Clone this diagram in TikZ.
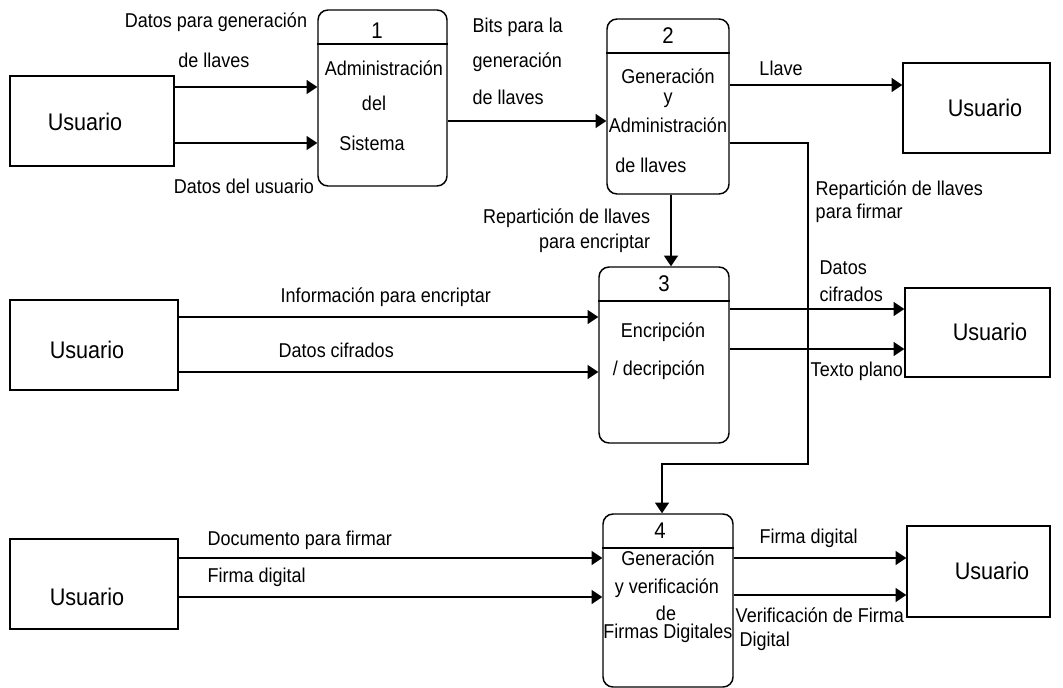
\documentclass[tikz,border=0pt]{standalone}
\usepackage{fontspec}
\setmainfont[FakeStretch=0.9]{Liberation Sans}
\usetikzlibrary{arrows.meta,fit}
\begin{document}
\begin{tikzpicture}[x=0.75pt,y=-0.75pt,line width=1.1pt,
  ent/.style={draw, inner sep=0pt},
  enttxt/.style={inner sep=0pt, font=\fontsize{18}{21}\selectfont},
  proc/.style={draw, rounded corners=7.5pt, inner sep=0pt},
  num/.style={inner sep=0pt, font=\fontsize{17}{20}\selectfont},
  lbl/.style={inner sep=0pt, font=\fontsize{15}{18}\selectfont},
  flow/.style={-{Triangle[length=8pt,width=10.5pt]}}]
\useasboundingbox (0,0) rectangle (1063,688);

% external entities
\node[ent, fit={(10,76)(174,166)}] (u1) {};
\node[enttxt] (u1t) at (85,122) {Usuario};
\node[ent, fit={(903,63)(1050,153)}] (u2) {};
\node[enttxt] (u2t) at (985,108) {Usuario};
\node[ent, fit={(10,300)(178,390)}] (u3) {};
\node[enttxt] (u3t) at (87,350) {Usuario};
\node[ent, fit={(905,288)(1050,377)}] (u4) {};
\node[enttxt] (u4t) at (990,332) {Usuario};
\node[ent, fit={(10,539)(178,629)}] (u5) {};
\node[enttxt] (u5t) at (87,597) {Usuario};
\node[ent, fit={(907,526)(1050,617)}] (u6) {};
\node[enttxt] (u6t) at (992,571) {Usuario};

% processes
\node[proc, fit={(318,10)(447,186)}] (p1) {};
\draw (p1.west |- 0,44) -- (p1.east |- 0,44);
\node[num] (p1n) at (377,31) {1};
\node[lbl] (p1a) at (384,68) {Administración};
\node[lbl] (p1b) at (374,103) {del};
\node[lbl] (p1c) at (372,143) {Sistema};

\node[proc, fit={(607,19)(729,194)}] (p2) {};
\draw (p2.west |- 0,53) -- (p2.east |- 0,53);
\node[num] (p2n) at (668,36) {2};
\node[lbl] (p2a) at (668,76) {Generación};
\node[lbl] (p2b) at (668,100) {y};
\node[lbl] (p2c) at (668,125) {Administración};
\node[lbl] (p2d) at (651,165) {de llaves};

\node[proc, fit={(599,267)(729,443)}] (p3) {};
\draw (p3.west |- 0,301) -- (p3.east |- 0,301);
\node[num] (p3n) at (664,284) {3};
\node[lbl] (p3a) at (663,332) {Encripción};
\node[lbl] (p3b) at (659,370) {/ decripción};

\node[proc, fit={(603,514)(733,687)}] (p4) {};
\draw (p4.west |- 0,548) -- (p4.east |- 0,548);
\node[num] (p4n) at (660,531) {4};
\node[lbl] (p4a) at (668,558) {Generación};
\node[lbl] (p4b) at (667,588) {y verificación};
\node[lbl] (p4c) at (666,613) {de};
\node[lbl] (p4d) at (668,633) {Firmas Digitales};

% data flows
\draw[flow] (u1.east |- 0,87) -- (p1.west |- 0,87);
\draw[flow] (u1.east |- 0,143) -- (p1.west |- 0,143);
\draw[flow] (p1.east |- 0,121) -- (p2.west |- 0,121);
\draw[flow] (p2.east |- 0,85) -- (u2.west |- 0,85);
\draw[flow] (p2.south -| 671,0) -- (p3.north -| 671,0);
\coordinate (k1) at (808,143);
\coordinate (k2) at (808,464);
\coordinate (k3) at (662,464);
\draw[flow] (p2.east |- k1) -- (k1) -- (k2) -- (k3) -- (p4.north -| k3);
\draw[flow] (u3.east |- 0,317) -- (p3.west |- 0,317);
\draw[flow] (u3.east |- 0,372) -- (p3.west |- 0,372);
\draw[flow] (p3.east |- 0,309) -- (u4.west |- 0,309);
\draw[flow] (p3.east |- 0,349) -- (u4.west |- 0,349);
\draw[flow] (u5.east |- 0,558) -- (p4.west |- 0,558);
\draw[flow] (u5.east |- 0,597) -- (p4.west |- 0,597);
\draw[flow] (p4.east |- 0,558) -- (u6.west |- 0,558);
\draw[flow] (p4.east |- 0,595) -- (u6.west |- 0,595);

% flow labels
\node[lbl] (l1) at (216,22) {Datos para generación};
\node[lbl] (l2) at (214,60) {de llaves};
\node[lbl] (l3) at (244,186) {Datos del usuario};
\node[lbl, anchor=west] (l4) at (472,27) {Bits para la};
\node[lbl, anchor=west] (l5) at (472,62) {generación};
\node[lbl, anchor=west] (l6) at (472,97) {de llaves};
\node[lbl] (l7) at (781,68) {Llave};
\node[lbl, anchor=west] (l8) at (815,190) {Repartición de llaves};
\node[lbl, anchor=west] (l9) at (815,213) {para firmar};
\node[lbl, anchor=east] (l10) at (651,218) {Repartición de llaves};
\node[lbl, anchor=east] (l11) at (651,243) {para encriptar};
\node[lbl, anchor=west] (l12) at (280,297) {Información para encriptar};
\node[lbl, anchor=west] (l13) at (278,350) {Datos cifrados};
\node[lbl, anchor=west] (l14) at (819,268) {Datos};
\node[lbl, anchor=west] (l15) at (819,294) {cifrados};
\node[lbl, anchor=west] (l16) at (810,371) {Texto plano};
\node[lbl, anchor=west] (l17) at (207,540) {Documento para firmar};
\node[lbl, anchor=west] (l18) at (207,577) {Firma digital};
\node[lbl, anchor=west] (l19) at (759,538) {Firma digital};
\node[lbl, anchor=west] (l20) at (735,615) {Verificación de Firma};
\node[lbl, anchor=west] (l21) at (739,641) {Digital};
\end{tikzpicture}
\end{document}
